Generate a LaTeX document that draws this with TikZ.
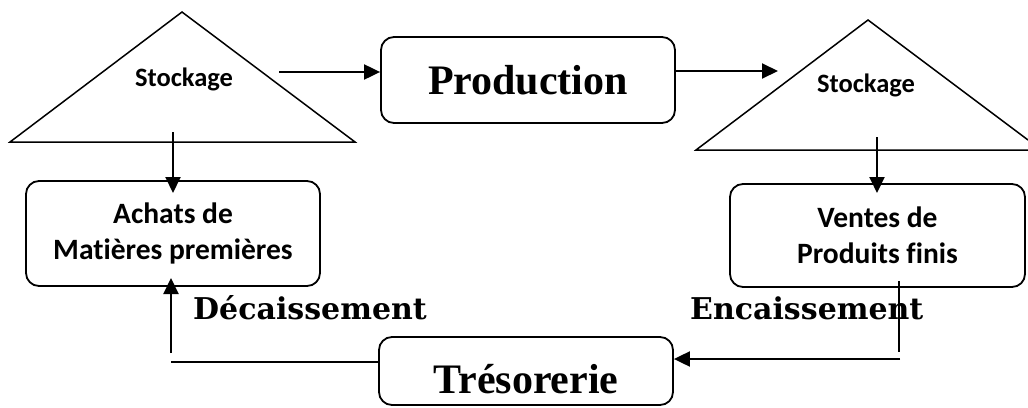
\documentclass[tikz,border=0pt]{standalone}
\usepackage{fontspec}
\setmainfont{Carlito}[Ligatures=NoCommon]
\newfontfamily\cambriaish{Liberation Serif}
\newfontfamily\slabfont{DejaVu Serif}
\usetikzlibrary{arrows.meta}
\begin{document}
\begin{tikzpicture}[x=1pt,y=-1pt,
  box/.style={draw, line width=1.8pt, rounded corners=13pt, inner sep=0pt},
  tri/.style={draw, line width=1.5pt, line join=miter},
  conn/.style={line width=2pt, -{Triangle[length=16pt,width=15pt]}},
  bare/.style={line width=2pt},
  small/.style={font=\fontsize{26.5}{30}\selectfont\bfseries},
  mid/.style={font=\fontsize{29.5}{36}\selectfont\bfseries, align=center},
  big/.style={font=\fontsize{42}{46}\selectfont\cambriaish\bfseries},
  flow/.style={font=\fontsize{30}{34}\selectfont\slabfont\bfseries, anchor=base west, inner sep=0pt}]
\useasboundingbox (0,0) rectangle (1028,407);

% triangles (stock)
\draw[tri] (10,142) -- (182,12) -- (355,142) -- cycle;
\draw[tri] (1028,140) -- (868,20) -- (696,150) -- (1028,150);
\node[small, anchor=base] (stockA) at (184,86) {Stockage};
\node[small, anchor=base] (stockB) at (866,92) {Stockage};

% boxes
\node[box, minimum width=294pt, minimum height=86pt, big] (prod) at (528,80) {Production};
\node[box, minimum width=294pt, minimum height=105pt, mid] (achats) at (173,233.5) {Achats de\\Matières premières};
\node[box, minimum width=295pt, minimum height=103pt, mid] (ventes) at (877.5,235.5) {Ventes de\\Produits finis};
\node[box, minimum width=294pt, minimum height=68pt] (tres) at (526,371) {};
\node[big, anchor=base, inner sep=0pt] (tresT) at (526,393) {Trésorerie};

% labels
\node[flow] (dec) at (193,319) {Décaissement};
\node[flow] (enc) at (690,319) {Encaissement};

% connectors
\coordinate (a1) at (279,72);
\draw[conn] (a1) -- (a1 -| prod.west);
\coordinate (b1) at (778,71);
\draw[conn] (b1 -| prod.east) -- (b1);
\coordinate (c1) at (173,132);
\coordinate (c2) at (173,193);
\draw[conn] (c1) -- (c2);
\coordinate (d1) at (877,137);
\coordinate (d2) at (877,193);
\draw[conn] (d1) -- (d2);
\coordinate (e1) at (171,353);
\coordinate (e2) at (171,278);
\draw[conn] (e1) -- (e2);
\coordinate (f1) at (171,362);
\draw[bare] (f1) -- (f1 -| tres.west);
\coordinate (g1) at (899,281);
\coordinate (g2) at (899,352);
\draw[bare] (g1) -- (g2);
\coordinate (h1) at (900,359);
\draw[conn] (h1) -- (h1 -| tres.east);
\end{tikzpicture}
\end{document}
